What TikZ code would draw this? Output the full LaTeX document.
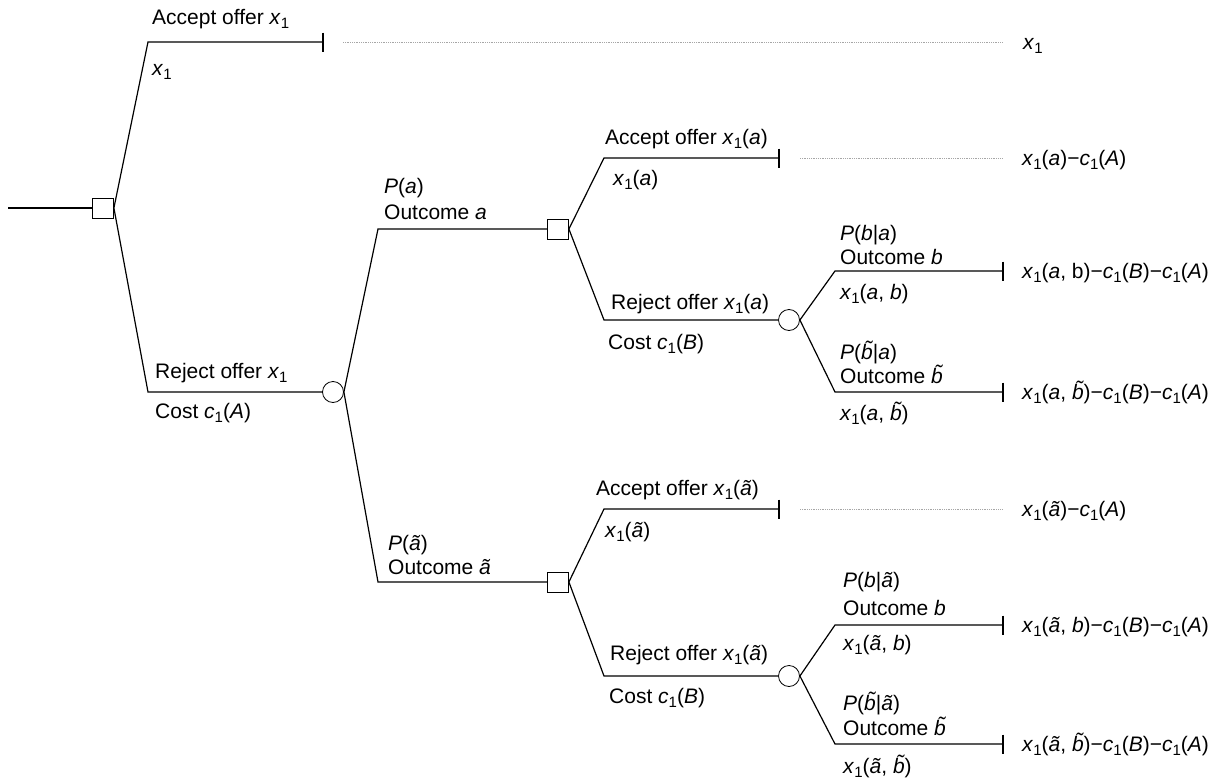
\documentclass[tikz,border=0pt]{standalone}
\usepackage{fontspec}
\setmainfont{Liberation Sans}
\newcommand\sbone{\raisebox{-0.22em}{\fontsize{15}{15}\selectfont 1}}
\newcommand\xo{\textit{x}\sbone}
\newcommand\co{\textit{c}\sbone}
\newcommand\at{\textit{ã}}
\newcommand\bt{\smash{\textit{b̃}}}
\newcommand\tickend[1]{\draw[branch] ([yshift=9.5pt]#1) -- ([yshift=-9.5pt]#1);}
\begin{document}
\begin{tikzpicture}[x=1pt,y=-1pt,
  every node/.style={font=\fontsize{21}{25}\selectfont, inner sep=0pt},
  decision/.style={draw, rectangle, minimum width=21pt, minimum height=20pt, line width=0.8pt},
  chance/.style={draw, circle, minimum size=21pt, line width=0.8pt},
  branch/.style={line width=1.2pt},
  guide/.style={black!35, line width=0.6pt, dash pattern=on 1pt off 0.8pt},
  lbl/.style={anchor=base west},
  pay/.style={anchor=base west}]
\useasboundingbox (0,0) rectangle (1229,779);

% decision and chance nodes
\node[decision] (S1) at (103,208) {};
\node[chance]   (C1) at (333,392) {};
\node[decision] (S2) at (558,229) {};
\node[decision] (S3) at (558,582) {};
\node[chance]   (C2) at (789,320) {};
\node[chance]   (C3) at (789,676) {};

% corners and ends
\coordinate (root) at (8,208);
\coordinate (k1) at (148,42);  \coordinate (e1) at (323,42);
\coordinate (k2) at (148,392);
\coordinate (k3) at (378,229);
\coordinate (k4) at (378,582);
\coordinate (k5) at (604,158); \coordinate (e5) at (779,158);
\coordinate (k6) at (604,320);
\coordinate (k7) at (835,271); \coordinate (e7) at (1003,271);
\coordinate (k8) at (835,392); \coordinate (e8) at (1003,392);
\coordinate (k9) at (604,509); \coordinate (e9) at (779,509);
\coordinate (k10) at (604,676);
\coordinate (k11) at (835,625); \coordinate (e11) at (1003,625);
\coordinate (k12) at (835,744); \coordinate (e12) at (1003,744);
% guide lines
\coordinate (g1a) at (343,42);  \coordinate (g1b) at (1003,42);
\coordinate (g5a) at (800,158); \coordinate (g5b) at (1003,158);
\coordinate (g9a) at (800,509); \coordinate (g9b) at (1003,509);

% branches
\draw[branch] (root) -- (S1.west);
\draw[branch] (S1.east) -- (k1) -- (e1);
\draw[branch] (S1.east) -- (k2) -- (C1.west);
\draw[branch] (C1.east) -- (k3) -- (S2.west);
\draw[branch] (C1.east) -- (k4) -- (S3.west);
\draw[branch] (S2.east) -- (k5) -- (e5);
\draw[branch] (S2.east) -- (k6) -- (C2.west);
\draw[branch] (C2.east) -- (k7) -- (e7);
\draw[branch] (C2.east) -- (k8) -- (e8);
\draw[branch] (S3.east) -- (k9) -- (e9);
\draw[branch] (S3.east) -- (k10) -- (C3.west);
\draw[branch] (C3.east) -- (k11) -- (e11);
\draw[branch] (C3.east) -- (k12) -- (e12);
\tickend{e1} \tickend{e5} \tickend{e7} \tickend{e8} \tickend{e9} \tickend{e11} \tickend{e12}
\draw[guide] (g1a) -- (g1b);
\draw[guide] (g5a) -- (g5b);
\draw[guide] (g9a) -- (g9b);

% branch labels
\node[lbl] (l1a) at (152,24) {Accept offer \xo};
\node[lbl] (l1b) at (152,75) {\xo};
\node[lbl] (l2a) at (155,378) {Reject offer \xo};
\node[lbl] (l2b) at (155,418) {Cost \co(\textit{A})};
\node[lbl] (l3a) at (384,193) {\textit{P}(\textit{a})};
\node[lbl] (l3b) at (384,219) {Outcome \textit{a}};
\node[lbl] (l4a) at (388,550) {\textit{P}(\at)};
\node[lbl] (l4b) at (388,574) {Outcome \at};
\node[lbl] (l5a) at (605,144) {Accept offer \xo(\textit{a})};
\node[lbl] (l5b) at (613,185) {\xo(\textit{a})};
\node[lbl] (l6a) at (611,309) {Reject offer \xo(\textit{a})};
\node[lbl] (l6b) at (608,349) {Cost \co(\textit{B})};
\node[lbl] (l7a) at (840,240) {\textit{P}(\textit{b}|\textit{a})};
\node[lbl] (l7b) at (840,264) {Outcome \textit{b}};
\node[lbl] (l7c) at (840,299) {\xo(\textit{a}, \textit{b})};
\node[lbl] (l8a) at (840,359) {\textit{P}(\bt|\textit{a})};
\node[lbl] (l8b) at (840,383) {Outcome \bt};
\node[lbl] (l8c) at (840,420) {\xo(\textit{a}, \bt)};
\node[lbl] (l9a) at (596,495) {Accept offer \xo(\at)};
\node[lbl] (l9b) at (605,537) {\xo(\at)};
\node[lbl] (l10a) at (610,660) {Reject offer \xo(\at)};
\node[lbl] (l10b) at (609,703) {Cost \co(\textit{B})};
\node[lbl] (l11a) at (843,587) {\textit{P}(\textit{b}|\at)};
\node[lbl] (l11b) at (843,615) {Outcome \textit{b}};
\node[lbl] (l11c) at (843,650) {\xo(\at, \textit{b})};
\node[lbl] (l12a) at (843,710) {\textit{P}(\bt|\at)};
\node[lbl] (l12b) at (843,735) {Outcome \bt};
\node[lbl] (l12c) at (843,773) {\xo(\at, \bt)};

% payoffs
\node[pay] (p1) at (1023,49) {\xo};
\node[pay] (p5) at (1022,165) {\xo(\textit{a})−\co(\textit{A})};
\node[pay] (p7) at (1022,278) {\xo(\textit{a}, b)−\co(\textit{B})−\co(\textit{A})};
\node[pay] (p8) at (1022,399) {\xo(\textit{a}, \bt)−\co(\textit{B})−\co(\textit{A})};
\node[pay] (p9) at (1022,516) {\xo(\at)−\co(\textit{A})};
\node[pay] (p11) at (1022,632) {\xo(\at, \textit{b})−\co(\textit{B})−\co(\textit{A})};
\node[pay] (p12) at (1022,751) {\xo(\at, \bt)−\co(\textit{B})−\co(\textit{A})};
\end{tikzpicture}
\end{document}
